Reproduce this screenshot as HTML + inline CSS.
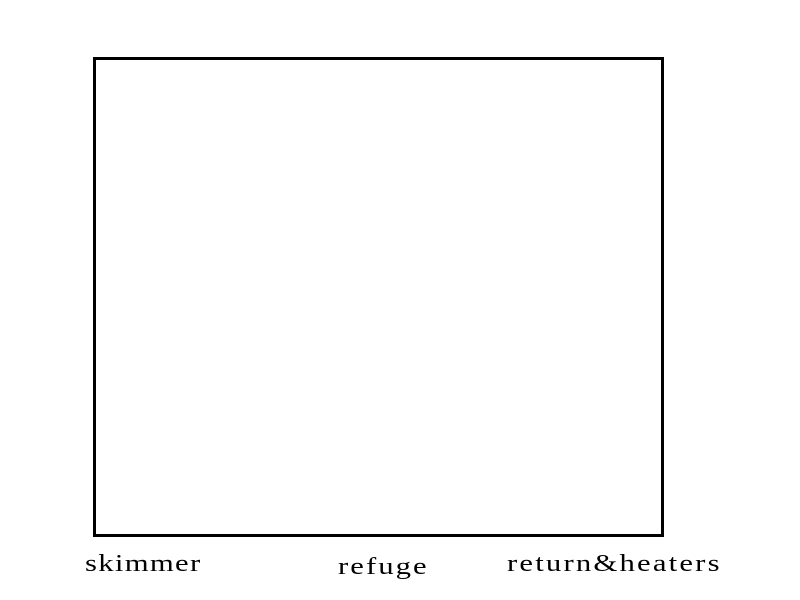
<!DOCTYPE html>
<html><head><style>
body{margin:0;width:800px;height:600px;background:#fff;position:relative;overflow:hidden;font-family:"Liberation Serif","DejaVu Serif",serif;}
.box{position:absolute;left:93px;top:57px;width:565px;height:474px;border:3px solid #000;}
.t{position:absolute;font-size:24px;letter-spacing:1px;line-height:1;color:#000;white-space:nowrap;transform:scaleX(1.28);transform-origin:0 0;}
</style></head><body>
<div class="box"></div>
<div class="t" style="left:85px;top:552px;">skimmer</div>
<div class="t" style="left:338px;top:555px;letter-spacing:1.6px;">refuge</div>
<div class="t" style="left:507px;top:552px;letter-spacing:1.7px;">return&amp;heaters</div>
</body></html>
